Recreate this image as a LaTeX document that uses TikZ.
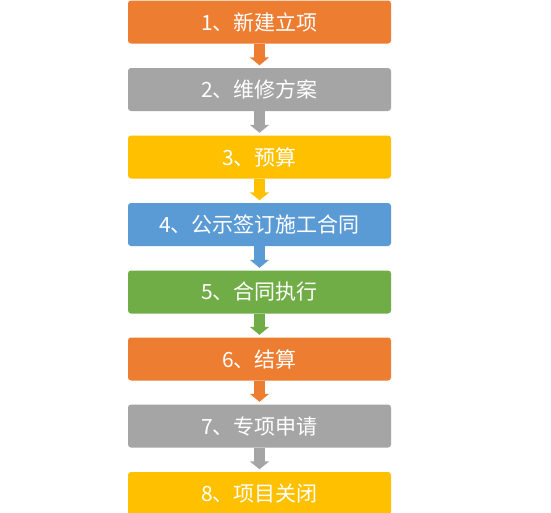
\documentclass[tikz,border=0pt]{standalone}
\usepackage{fontspec}
\newfontfamily\cjk{Noto Sans CJK SC}
\usetikzlibrary{arrows.meta,calc}
\definecolor{cOrange}{HTML}{ED7D31}
\definecolor{cGray}{HTML}{A5A5A5}
\definecolor{cYellow}{HTML}{FFC000}
\definecolor{cBlue}{HTML}{5B9BD5}
\definecolor{cGreen}{HTML}{70AD47}
\tikzset{
  stepbox/.style={rectangle, rounded corners=3pt, minimum width=263pt, minimum height=43pt,
    inner sep=0pt, text=white, font=\cjk\fontsize{21pt}{24pt}\selectfont, fill=#1},
  flowarrow/.style={draw=#1, line width=11pt, -{Triangle[width=19pt,length=8pt,fill=#1]}, shorten >=2.5pt}
}
\begin{document}
\begin{tikzpicture}[x=1pt,y=1pt]
\useasboundingbox (0,0) rectangle (551,-512);
\clip (0,0) rectangle (551,-512);
\fill[white] (0,0) rectangle (551,-512);
\node[stepbox=cOrange] (s1) at (259.5,-22.0) {1、新建立项};
\node[stepbox=cGray]   (s2) at (259.5,-89.5) {2、维修方案};
\node[stepbox=cYellow] (s3) at (259.5,-157.0) {3、预算};
\node[stepbox=cBlue]   (s4) at (259.5,-224.5) {4、公示签订施工合同};
\node[stepbox=cGreen]  (s5) at (259.5,-292.0) {5、合同执行};
\node[stepbox=cOrange] (s6) at (259.5,-359.0) {6、结算};
\node[stepbox=cGray]   (s7) at (259.5,-426.0) {7、专项申请};
\node[stepbox=cYellow] (s8) at (259.5,-493.5) {8、项目关闭};
\draw[flowarrow=cOrange] (s1.south) -- (s2.north);
\draw[flowarrow=cGray]   (s2.south) -- (s3.north);
\draw[flowarrow=cYellow] (s3.south) -- (s4.north);
\draw[flowarrow=cBlue]   (s4.south) -- (s5.north);
\draw[flowarrow=cGreen]  (s5.south) -- (s6.north);
\draw[flowarrow=cOrange] (s6.south) -- (s7.north);
\draw[flowarrow=cGray]   (s7.south) -- (s8.north);
\end{tikzpicture}
\end{document}
